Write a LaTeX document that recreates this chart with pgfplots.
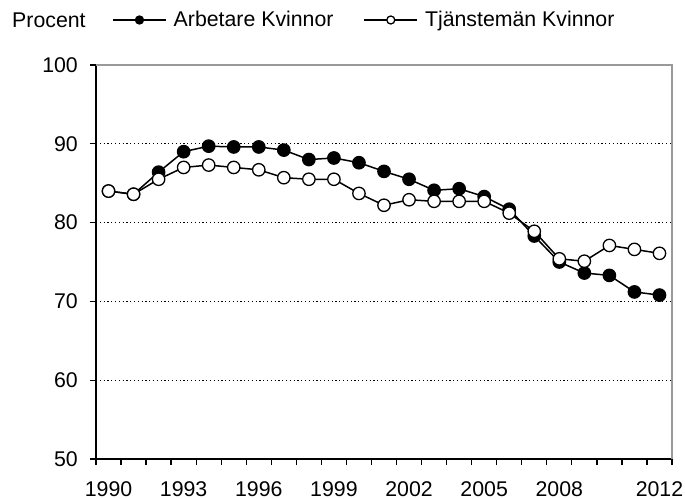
\documentclass[border=0pt]{standalone}
\usepackage{fontspec}
\setmainfont{Liberation Sans}
\usepackage{pgfplots}
\pgfplotsset{compat=1.18}
\begin{document}
\fontsize{21.3bp}{25bp}\selectfont
\begin{tikzpicture}
\path[use as bounding box] (-96bp,-40bp) rectangle (589bp,459bp);
\begin{axis}[
  at={(0,0)}, anchor=south west,
  scale only axis, width=576bp, height=394bp,
  xmin=1989.5, xmax=2012.5, ymin=50, ymax=100,
  clip=false,
  axis x line*=bottom, axis y line*=left,
  axis line style={black, line width=1.3bp, -},
  xtick={1990,1993,1996,1999,2002,2005,2008,2012},
  xticklabels={1990,1993,1996,1999,2002,2005,2008,2012},
  minor xtick={1989.5,1990.5,...,2012.5},
  ytick={50,60,70,80,90,100},
  yticklabels={50,60,70,80,90,100},
  tick align=outside,
  major tick length=6bp, minor tick length=6bp,
  tick style={black, line width=1.3bp},
  major x tick style={draw=none},
  xticklabel style={inner sep=0pt, anchor=north, yshift=-16bp},
  yticklabel style={inner sep=0pt, anchor=east, xshift=-12bp},
  ymajorgrids,
  major grid style={black, line width=1.2bp, dash pattern=on 1.2bp off 2.6bp},
  legend columns=2,
  legend cell align=left,
  legend style={at={(axis description cs:0.0278,1.1142)}, anchor=west,
    draw=none, fill=none, inner sep=0pt,
    nodes={inner sep=0pt, anchor=west},
    /tikz/every odd column/.append style={column sep=7bp},
    /tikz/every even column/.append style={column sep=30bp}},
  legend image code/.code={\draw[mark repeat=2, mark phase=2, mark size=4bp, line width=1.5bp]
     plot coordinates {(0bp,0bp) (26.5bp,0bp) (53bp,0bp)};},
]
\addplot[black, line width=1.5bp, mark=*, mark size=6.2bp, mark options={solid, fill=black, line width=1.3bp}] coordinates {
(1990,84.0) (1991,83.6) (1992,86.4) (1993,89.0) (1994,89.7) (1995,89.6)
(1996,89.6) (1997,89.2) (1998,88.0) (1999,88.2) (2000,87.6) (2001,86.5)
(2002,85.5) (2003,84.1) (2004,84.3) (2005,83.3) (2006,81.7) (2007,78.3)
(2008,75.0) (2009,73.6) (2010,73.3) (2011,71.2) (2012,70.8)
};
\addlegendentry{Arbetare Kvinnor}
\addplot[black, line width=1.5bp, mark=*, mark size=6.2bp, mark options={solid, fill=white, line width=1.3bp}] coordinates {
(1990,84.0) (1991,83.6) (1992,85.5) (1993,87.0) (1994,87.3) (1995,87.0)
(1996,86.7) (1997,85.7) (1998,85.5) (1999,85.5) (2000,83.7) (2001,82.2)
(2002,82.9) (2003,82.7) (2004,82.7) (2005,82.7) (2006,81.2) (2007,78.9)
(2008,75.4) (2009,75.1) (2010,77.1) (2011,76.6) (2012,76.1)
};
\addlegendentry{Tjänstemän Kvinnor}
\draw[black!40, line width=1.8bp] (rel axis cs:0,1) -- (rel axis cs:1,1) -- (rel axis cs:1,0);
\node[anchor=west, inner sep=0pt] at (axis description cs:-0.1458,1.1142) {Procent};
\end{axis}
\end{tikzpicture}
\end{document}
